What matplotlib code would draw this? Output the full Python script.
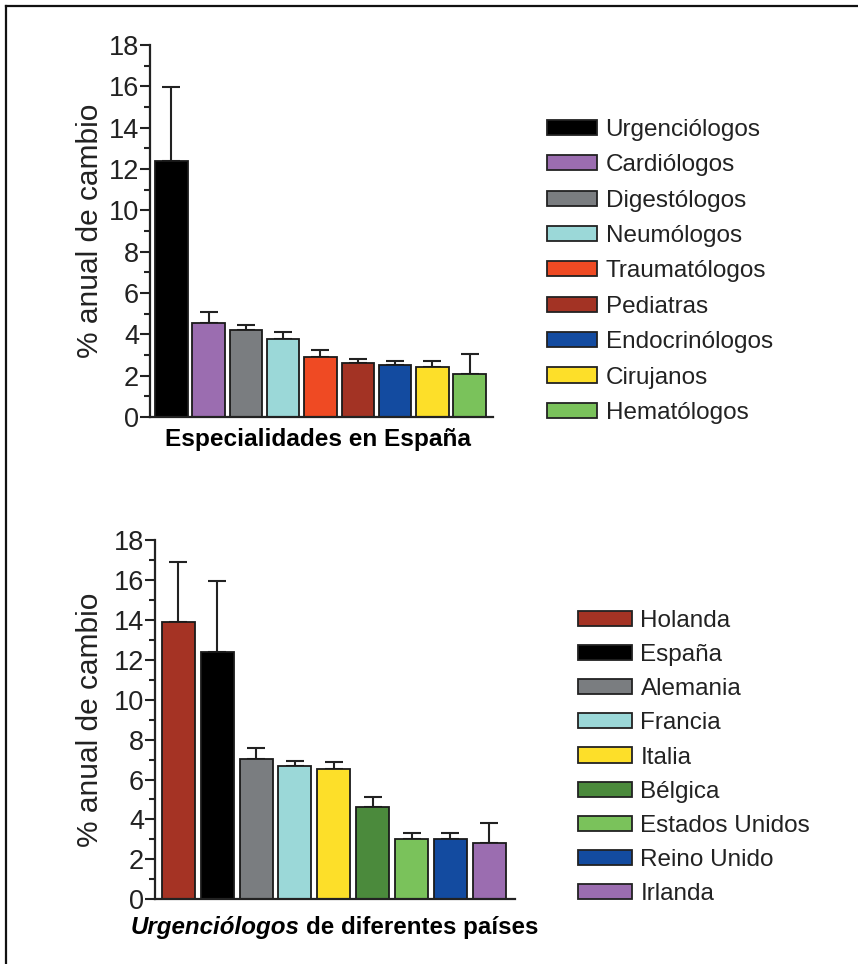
import numpy as np
import matplotlib
matplotlib.use('Agg')
import matplotlib.pyplot as plt
from matplotlib.lines import Line2D

plt.rcParams['font.family'] = ['Liberation Sans', 'DejaVu Sans']

# especialidades en España
esp_names = ['Urgenciólogos', 'Cardiólogos', 'Digestólogos', 'Neumólogos', 'Traumatólogos',
             'Pediatras', 'Endocrinólogos', 'Cirujanos', 'Hematólogos']
esp_vals = [12.4, 4.57, 4.21, 3.78, 2.9, 2.63, 2.54, 2.44, 2.07]
esp_err = [3.57, 0.5, 0.23, 0.33, 0.35, 0.19, 0.18, 0.28, 0.96]
esp_colors = ['#000000', '#9b6db0', '#7a7d80', '#9bd8d8', '#ef4a23',
              '#a33324', '#134ba0', '#fddf29', '#7ac25b']

# urgenciólogos por país
pais_names = ['Holanda', 'España', 'Alemania', 'Francia', 'Italia', 'Bélgica',
              'Estados Unidos', 'Reino Unido', 'Irlanda']
pais_vals = [13.88, 12.37, 7.01, 6.69, 6.54, 4.64, 3.0, 3.0, 2.8]
pais_err = [3.03, 3.59, 0.55, 0.22, 0.32, 0.5, 0.31, 0.31, 1.01]
pais_colors = ['#a53324', '#000000', '#7a7d80', '#9bd8d8', '#fddf29', '#4b8a3c',
               '#7ac25b', '#134ba0', '#9b6db0']

W, H = 858, 964
fig = plt.figure(figsize=(W / 100, H / 100), dpi=100)


def bar_panel(rect, vals, err, colors, names, xlim, width, leg_xy, handlelen, spacing, ylab_x):
    ax = fig.add_axes(rect)
    x = np.arange(len(vals))
    ax.bar(x, vals, width=width, color=colors, edgecolor='#1a1a1a', linewidth=1.3, zorder=2)
    ax.errorbar(x, vals, yerr=[np.zeros(len(err)), err], fmt='none', ecolor='#222222',
                elinewidth=1.5, capsize=6.5, capthick=1.5, zorder=1)
    ax.set_xlim(*xlim)
    ax.set_ylim(0, 18)
    ax.set_yticks(np.arange(0, 19, 2))
    ax.set_yticks(np.arange(1, 18, 2), minor=True)
    ax.set_xticks([])
    for s in ['top', 'right']:
        ax.spines[s].set_visible(False)
    for s in ['left', 'bottom']:
        ax.spines[s].set_linewidth(1.6)
        ax.spines[s].set_color('#222222')
    ax.tick_params(axis='y', which='major', length=7, width=1.5, labelsize=19.5,
                   labelcolor='#222222', pad=1, color='#222222')
    ax.tick_params(axis='y', which='minor', length=4, width=1.5, color='#222222')
    ax.set_ylabel('% anual de cambio', fontsize=21.5, color='#222222')
    ax.yaxis.set_label_coords(ylab_x, 0.5)
    handles = [plt.Rectangle((0, 0), 1, 1, facecolor=c, edgecolor='#222222', linewidth=1.3)
               for c in colors]
    fig.legend(handles, names, loc='upper left', bbox_to_anchor=leg_xy, frameon=False,
               fontsize=17.5, handlelength=handlelen, handleheight=0.58, handletextpad=0.35,
               labelspacing=spacing, borderpad=0, borderaxespad=0, labelcolor='#222222')
    return ax


bar_panel([150 / W, 1 - 417 / H, 343 / W, 372 / H], esp_vals, esp_err, esp_colors, esp_names,
          (-0.571, 8.625), 0.87, (547 / W, 1 - 119 / H), 2.06, 0.55, -0.134)
bar_panel([155 / W, 1 - 899.3 / H, 360 / W, 359.3 / H], pais_vals, pais_err, pais_colors, pais_names,
          (-0.6, 8.66), 0.85, (578 / W, 1 - 610 / H), 2.22, 0.5, -0.142)

fig.text(318 / W, 1 - 440 / H, 'Especialidades en España', ha='center', va='center',
         fontsize=17.6, fontweight='bold')

t1 = fig.text(131 / W, 1 - 934 / H, 'Urgenciólogos', ha='left', va='baseline',
              fontsize=17.4, fontweight='bold', style='italic')
fig.canvas.draw()
bb = t1.get_window_extent(renderer=fig.canvas.get_renderer())
fig.text(bb.x1 / W + 6 / W, 1 - 934 / H, 'de diferentes países', ha='left', va='baseline',
         fontsize=17.4, fontweight='bold')

# marco superior e izquierdo
fig.add_artist(Line2D([6 / W, 1], [1 - 6 / H, 1 - 6 / H], transform=fig.transFigure,
                      color='#111111', linewidth=1.6))
fig.add_artist(Line2D([6 / W, 6 / W], [0, 1 - 6 / H], transform=fig.transFigure,
                      color='#111111', linewidth=1.6))

fig.savefig('out.png', dpi=100)
